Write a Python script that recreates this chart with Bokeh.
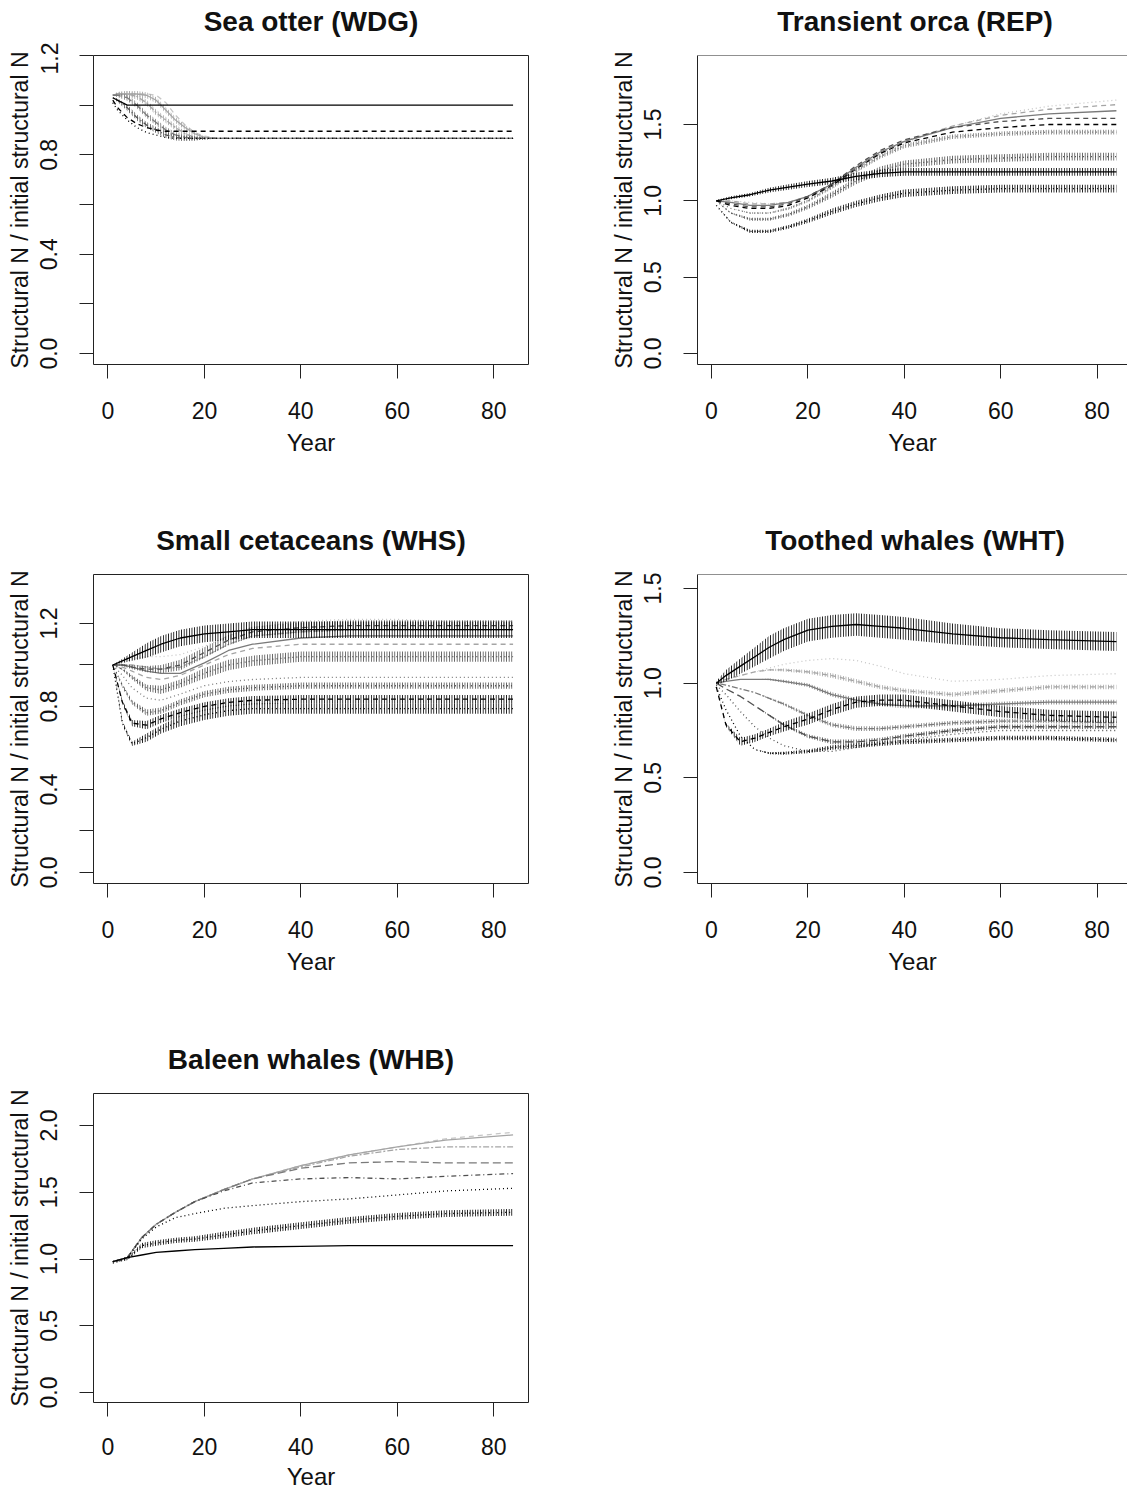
import numpy as np
from bokeh.plotting import figure
from bokeh.layouts import column, row
from bokeh.models import FixedTicker, Span
from bokeh.core.properties import value
from bokeh.embed import file_html
from bokeh.resources import INLINE

# ---------------------------------------------------------------- data
# Year samples and structural N relative to initial (mid value, and half
# width of the year-to-year oscillation where the trajectory zig-zags).

# Sea otter (WDG)
otter_years = [1, 2, 4, 6, 8, 10, 12, 14, 16, 18, 20, 23, 84]
otter_a = [1.03, 1.02, 1.00, 1.00, 1.00, 1.00, 1.00, 1.00, 1.00, 1.00, 1.00, 1.00, 1.00]
otter_b = [1.02, 0.99, 0.95, 0.925, 0.91, 0.90, 0.895, 0.895, 0.895, 0.895, 0.895, 0.895, 0.895]
otter_c = [1.01, 0.98, 0.94, 0.91, 0.89, 0.88, 0.87, 0.866, 0.866, 0.866, 0.866, 0.866, 0.866]
otter_d = [1.03, 1.02, 0.99, 0.95, 0.92, 0.90, 0.88, 0.87, 0.866, 0.866, 0.866, 0.866, 0.866]
otter_e = [1.04, 1.04, 1.03, 1.00, 0.96, 0.93, 0.90, 0.88, 0.87, 0.866, 0.866, 0.866, 0.866]
otter_f = [1.04, 1.045, 1.045, 1.035, 1.01, 0.97, 0.94, 0.91, 0.885, 0.87, 0.866, 0.866, 0.866]
otter_g = [1.04, 1.045, 1.045, 1.045, 1.04, 1.02, 0.98, 0.94, 0.91, 0.885, 0.87, 0.866, 0.866]
otter_h = [1.04, 1.045, 1.045, 1.045, 1.045, 1.04, 1.01, 0.96, 0.92, 0.89, 0.875, 0.866, 0.866]
otter_swing = [0.0, 0.008, 0.012, 0.012, 0.012, 0.012, 0.012, 0.012, 0.01, 0.008, 0.004, 0.0, 0.0]

# Transient orca (REP)
orca_years = [1, 4, 8, 12, 16, 20, 25, 30, 35, 40, 50, 60, 70, 84]
orca_a = [1.00, 1.02, 1.04, 1.07, 1.09, 1.11, 1.13, 1.16, 1.18, 1.19, 1.19, 1.19, 1.19, 1.19]
orca_a_swing = [0.005, 0.01, 0.012, 0.015, 0.018, 0.02, 0.022, 0.025, 0.025, 0.025, 0.025, 0.025, 0.025, 0.025]
orca_b = [0.97, 0.86, 0.80, 0.80, 0.83, 0.87, 0.93, 0.98, 1.02, 1.05, 1.07, 1.08, 1.08, 1.08]
orca_b_swing = [0.0, 0.005, 0.01, 0.01, 0.012, 0.015, 0.02, 0.02, 0.022, 0.025, 0.025, 0.025, 0.025, 0.025]
orca_c = [1.00, 0.92, 0.88, 0.88, 0.91, 0.96, 1.04, 1.13, 1.20, 1.24, 1.27, 1.28, 1.29, 1.29]
orca_c_swing = [0.0, 0.005, 0.01, 0.01, 0.012, 0.015, 0.02, 0.022, 0.025, 0.025, 0.025, 0.025, 0.025, 0.025]
orca_d = [1.00, 0.95, 0.92, 0.92, 0.95, 1.00, 1.09, 1.20, 1.29, 1.36, 1.42, 1.44, 1.45, 1.45]
orca_d_swing = [0.0, 0.0, 0.005, 0.005, 0.008, 0.01, 0.012, 0.015, 0.015, 0.015, 0.015, 0.015, 0.015, 0.015]
orca_e = [1.00, 0.97, 0.95, 0.95, 0.97, 1.02, 1.10, 1.21, 1.31, 1.38, 1.45, 1.48, 1.50, 1.50]
orca_f = [1.00, 0.98, 0.96, 0.96, 0.98, 1.03, 1.11, 1.23, 1.33, 1.40, 1.48, 1.52, 1.54, 1.54]
orca_g = [1.00, 0.99, 0.97, 0.97, 0.99, 1.03, 1.11, 1.22, 1.32, 1.39, 1.48, 1.54, 1.57, 1.59]
orca_h = [1.00, 1.00, 0.98, 0.98, 0.99, 1.03, 1.10, 1.21, 1.31, 1.39, 1.49, 1.56, 1.60, 1.63]
orca_i = [1.00, 1.00, 0.99, 0.98, 0.99, 1.02, 1.08, 1.19, 1.29, 1.38, 1.49, 1.57, 1.62, 1.66]

# Small cetaceans (WHS)
cet_years = [1, 3, 5, 8, 11, 15, 20, 25, 30, 40, 50, 60, 70, 84]
cet_a = [1.00, 1.02, 1.04, 1.07, 1.10, 1.13, 1.15, 1.16, 1.17, 1.17, 1.17, 1.17, 1.17, 1.17]
cet_a_swing = [0.0, 0.01, 0.02, 0.035, 0.04, 0.04, 0.04, 0.04, 0.04, 0.04, 0.04, 0.04, 0.04, 0.04]
cet_b = [1.00, 0.72, 0.62, 0.65, 0.69, 0.73, 0.76, 0.78, 0.79, 0.79, 0.79, 0.79, 0.79, 0.79]
cet_b_swing = [0.0, 0.01, 0.01, 0.02, 0.02, 0.025, 0.025, 0.025, 0.025, 0.025, 0.025, 0.025, 0.025, 0.025]
cet_c = [1.00, 0.82, 0.72, 0.71, 0.74, 0.77, 0.80, 0.82, 0.83, 0.835, 0.835, 0.835, 0.835, 0.835]
cet_c_swing = [0.0, 0.01, 0.015, 0.02, 0.02, 0.02, 0.02, 0.02, 0.02, 0.02, 0.02, 0.02, 0.02, 0.02]
cet_d = [1.00, 0.90, 0.82, 0.77, 0.78, 0.82, 0.86, 0.88, 0.89, 0.90, 0.90, 0.90, 0.90, 0.90]
cet_d_swing = [0.0, 0.01, 0.01, 0.015, 0.015, 0.015, 0.015, 0.015, 0.015, 0.015, 0.015, 0.015, 0.015, 0.015]
cet_e = [1.00, 0.95, 0.89, 0.84, 0.83, 0.86, 0.90, 0.92, 0.93, 0.94, 0.94, 0.94, 0.94, 0.94]
cet_f = [1.00, 0.98, 0.94, 0.89, 0.88, 0.91, 0.96, 1.00, 1.02, 1.04, 1.04, 1.04, 1.04, 1.04]
cet_f_swing = [0.0, 0.005, 0.01, 0.015, 0.02, 0.02, 0.025, 0.025, 0.025, 0.025, 0.025, 0.025, 0.025, 0.025]
cet_g = [1.00, 0.99, 0.97, 0.94, 0.93, 0.95, 1.00, 1.05, 1.08, 1.10, 1.10, 1.10, 1.10, 1.10]
cet_h = [1.00, 1.00, 0.99, 0.97, 0.96, 0.96, 1.01, 1.07, 1.10, 1.13, 1.14, 1.14, 1.14, 1.14]
cet_i = [1.00, 1.00, 1.00, 0.99, 0.98, 0.99, 1.04, 1.10, 1.14, 1.16, 1.17, 1.17, 1.17, 1.17]
cet_j = [1.00, 1.01, 1.03, 1.04, 1.04, 1.05, 1.09, 1.14, 1.18, 1.21, 1.22, 1.22, 1.21, 1.21]
cet_k = [1.00, 1.00, 0.99, 0.98, 0.98, 1.00, 1.06, 1.12, 1.16, 1.18, 1.19, 1.19, 1.19, 1.19]
cet_k_swing = [0.0, 0.005, 0.01, 0.015, 0.02, 0.025, 0.025, 0.025, 0.025, 0.025, 0.025, 0.025, 0.025, 0.025]

# Toothed whales (WHT)
tooth_years = [1, 3, 6, 9, 12, 15, 20, 25, 30, 35, 40, 50, 60, 70, 84]
tooth_a = [1.00, 1.04, 1.09, 1.14, 1.19, 1.23, 1.28, 1.30, 1.31, 1.30, 1.29, 1.26, 1.24, 1.23, 1.22]
tooth_a_swing = [0.01, 0.03, 0.04, 0.05, 0.06, 0.06, 0.06, 0.06, 0.06, 0.06, 0.06, 0.055, 0.05, 0.05, 0.05]
tooth_b = [1.00, 1.02, 1.04, 1.06, 1.08, 1.10, 1.12, 1.13, 1.12, 1.09, 1.05, 1.01, 1.02, 1.04, 1.05]
tooth_c = [1.00, 1.02, 1.04, 1.06, 1.07, 1.07, 1.06, 1.04, 1.01, 0.98, 0.96, 0.94, 0.96, 0.98, 0.98]
tooth_d = [1.00, 1.01, 1.02, 1.02, 1.02, 1.01, 0.99, 0.94, 0.91, 0.89, 0.88, 0.88, 0.89, 0.90, 0.90]
tooth_e = [1.00, 0.99, 0.97, 0.95, 0.92, 0.89, 0.83, 0.78, 0.76, 0.76, 0.77, 0.79, 0.80, 0.80, 0.79]
tooth_f = [1.00, 0.97, 0.93, 0.88, 0.83, 0.78, 0.72, 0.69, 0.69, 0.70, 0.72, 0.75, 0.77, 0.77, 0.77]
tooth_g = [0.99, 0.94, 0.85, 0.77, 0.71, 0.67, 0.64, 0.64, 0.66, 0.68, 0.70, 0.73, 0.75, 0.75, 0.75]
tooth_h = [0.98, 0.86, 0.72, 0.65, 0.63, 0.63, 0.64, 0.66, 0.67, 0.68, 0.69, 0.70, 0.71, 0.71, 0.70]
tooth_i = [0.98, 0.78, 0.69, 0.71, 0.74, 0.77, 0.81, 0.86, 0.90, 0.91, 0.91, 0.88, 0.85, 0.83, 0.82]
tooth_i_swing = [0.0, 0.01, 0.02, 0.02, 0.02, 0.025, 0.03, 0.03, 0.03, 0.03, 0.03, 0.03, 0.03, 0.03, 0.03]
tooth_small_swing = [0.0, 0.0, 0.0, 0.0, 0.005, 0.008, 0.01, 0.012, 0.012, 0.012, 0.012, 0.012, 0.012, 0.012, 0.012]

# Baleen whales (WHB)
baleen_years = [1, 4, 7, 10, 14, 18, 24, 30, 40, 50, 60, 70, 84]
baleen_a = [0.98, 1.01, 1.03, 1.05, 1.06, 1.07, 1.08, 1.09, 1.095, 1.10, 1.10, 1.10, 1.10]
baleen_b = [0.97, 1.00, 1.10, 1.12, 1.14, 1.15, 1.18, 1.21, 1.25, 1.29, 1.32, 1.34, 1.35]
baleen_b_swing = [0.0, 0.01, 0.02, 0.02, 0.02, 0.02, 0.025, 0.025, 0.025, 0.025, 0.025, 0.025, 0.025]
baleen_c = [0.98, 1.01, 1.15, 1.24, 1.31, 1.34, 1.38, 1.40, 1.43, 1.45, 1.48, 1.51, 1.53]
baleen_d = [0.98, 1.01, 1.16, 1.26, 1.35, 1.43, 1.51, 1.57, 1.60, 1.61, 1.60, 1.62, 1.64]
baleen_e = [0.98, 1.01, 1.16, 1.26, 1.35, 1.43, 1.52, 1.60, 1.68, 1.72, 1.73, 1.72, 1.72]
baleen_f = [0.98, 1.01, 1.16, 1.26, 1.35, 1.43, 1.52, 1.60, 1.69, 1.77, 1.82, 1.84, 1.84]
baleen_g = [0.98, 1.01, 1.16, 1.26, 1.35, 1.43, 1.52, 1.60, 1.70, 1.78, 1.84, 1.89, 1.93]
baleen_h = [0.98, 1.01, 1.16, 1.26, 1.35, 1.43, 1.52, 1.60, 1.70, 1.78, 1.84, 1.90, 1.95]

year_ticks = [0, 20, 40, 60, 80]

# ---------------------------------------------------------------- styles
BLACK, DARK, MID, LIGHT, PALE = "#000000", "#505050", "#7a7a7a", "#a5a5a5", "#c6c6c6"
SOLID, DASHED, DOTTED, DOTDASH, LONGDASH, TWODASH = (
    "solid", "5 4", "1 3", "1 3 5 3", "8 4", "2 2 6 2")

FONT = "Liberation Sans"
INK = "#111111"
HEAD_H = 42            # strip holding each panel heading
LEFT_W, RIGHT_W = 563, 564


def heading(text, width, centre):
    """A thin strip with the bold panel heading centred over the plot box."""
    h = figure(width=width, height=HEAD_H, x_range=(0, width), y_range=(0, HEAD_H),
               x_axis_type=None, y_axis_type=None, output_backend="svg",
               toolbar_location=None, min_border=0)
    h.outline_line_color = None
    h.grid.visible = False
    h.text(x=[centre], y=[HEAD_H / 2], text=[text], text_align="center",
           text_baseline="middle", text_font=value(FONT), text_font_size="28px",
           text_font_style="bold", text_color=INK)
    return h


def panel(years, series, y_range, y_ticks, y_labels, left_pad, right_pad,
          width, height, bottom_pad, open_right=False, compact=False):
    p = figure(width=width, height=height, x_range=(-3.0, 87.2) if not open_right else (-2.9, 86.3),
               y_range=y_range, output_backend="svg", toolbar_location=None,
               min_border_left=left_pad, min_border_right=right_pad,
               min_border_top=55 - HEAD_H, min_border_bottom=bottom_pad)
    p.grid.visible = False
    p.background_fill_color = "white"
    p.border_fill_color = "white"

    for ax in (p.xaxis[0], p.yaxis[0]):
        ax.major_tick_out = 14
        ax.major_tick_in = 0
        ax.minor_tick_out = 0
        ax.minor_tick_in = 0
        ax.major_tick_line_color = "#222222"
        ax.major_label_text_font = FONT
        ax.major_label_text_font_size = "23px"
        ax.major_label_text_color = INK
        ax.axis_label_text_font = FONT
        ax.axis_label_text_font_style = "normal"
        ax.axis_label_text_color = INK

    p.xaxis.ticker = FixedTicker(ticks=year_ticks)
    p.xaxis.axis_label = "Year"
    p.xaxis.axis_label_text_font_size = "24px"
    p.xaxis.major_label_standoff = 21 if compact else 23
    p.xaxis.axis_label_standoff = 5 if compact else 7

    p.yaxis.ticker = FixedTicker(ticks=y_ticks)
    p.yaxis.major_label_overrides = {t: lab for t, lab in zip(y_ticks, y_labels)}
    p.yaxis.major_label_orientation = "vertical"
    p.yaxis.axis_label = "Structural N / initial structural N"
    p.yaxis.axis_label_text_font_size = "23px"
    p.yaxis.major_label_standoff = 22
    p.yaxis.axis_label_standoff = 5

    if open_right:
        p.outline_line_color = None
        p.xaxis.axis_line_color = "#222222"
        p.yaxis.axis_line_color = "#222222"
        p.add_layout(Span(location=y_range[1], dimension="width",
                          line_color="#222222", line_width=1))
    else:
        p.outline_line_color = "#222222"
        p.outline_line_width = 1
        p.xaxis.axis_line_color = None
        p.yaxis.axis_line_color = None

    x = np.array(years, dtype=float)
    for values, swing, color, dash in series:
        y = np.array(values, dtype=float)
        if swing is not None:
            s = np.array(swing, dtype=float)
            p.varea(x=x, y1=y - s, y2=y + s, fill_alpha=0,
                    hatch_pattern="vertical_line", hatch_color=color,
                    hatch_scale=2.6, hatch_weight=1.1, hatch_alpha=0.95)
        p.line(x, y, line_color=color, line_dash=dash, line_width=1.3)
    return p


PLOT_H = 519 - HEAD_H

otter = panel(
    otter_years,
    [(otter_h, None, PALE, DASHED), (otter_g, otter_swing, LIGHT, SOLID),
     (otter_f, otter_swing, LIGHT, TWODASH), (otter_e, otter_swing, MID, LONGDASH),
     (otter_d, otter_swing, DARK, DOTDASH), (otter_c, None, BLACK, DOTTED),
     (otter_b, None, BLACK, DASHED), (otter_a, None, BLACK, SOLID)],
    (-0.044, 1.2), [0.0, 0.2, 0.4, 0.6, 0.8, 1.0, 1.2],
    ["0.0", "", "0.4", "", "0.8", "", "1.2"], 93, 35, LEFT_W, PLOT_H, 155)

orca = panel(
    orca_years,
    [(orca_i, None, PALE, DOTTED), (orca_h, None, LIGHT, DASHED),
     (orca_g, None, MID, SOLID), (orca_f, None, DARK, DASHED),
     (orca_e, None, BLACK, DASHED), (orca_d, orca_d_swing, MID, DOTTED),
     (orca_c, orca_c_swing, DARK, DOTTED), (orca_b, orca_b_swing, BLACK, DOTTED),
     (orca_a, orca_a_swing, BLACK, SOLID)],
    (-0.072, 1.952), [0.0, 0.5, 1.0, 1.5], ["0.0", "0.5", "1.0", "1.5"],
    134, 0, RIGHT_W, PLOT_H, 155, open_right=True)

cetacean = panel(
    cet_years,
    [(cet_j, None, PALE, DOTTED), (cet_i, None, LIGHT, TWODASH),
     (cet_h, None, MID, SOLID), (cet_g, None, LIGHT, DASHED),
     (cet_f, cet_f_swing, DARK, DOTTED), (cet_e, None, MID, DOTTED),
     (cet_d, cet_d_swing, DARK, DOTTED), (cet_c, cet_c_swing, BLACK, DASHED),
     (cet_b, cet_b_swing, BLACK, DOTTED), (cet_k, cet_k_swing, DARK, DASHED),
     (cet_a, cet_a_swing, BLACK, SOLID)],
    (-0.053, 1.436), [0.0, 0.2, 0.4, 0.6, 0.8, 1.0, 1.2],
    ["0.0", "", "0.4", "", "0.8", "", "1.2"], 93, 35, LEFT_W, PLOT_H, 155)

toothed = panel(
    tooth_years,
    [(tooth_b, None, PALE, DOTTED), (tooth_c, tooth_small_swing, LIGHT, DASHED),
     (tooth_d, tooth_small_swing, MID, SOLID), (tooth_e, tooth_small_swing, MID, TWODASH),
     (tooth_f, tooth_small_swing, DARK, LONGDASH), (tooth_g, None, DARK, DOTTED),
     (tooth_h, tooth_small_swing, BLACK, DOTTED), (tooth_i, tooth_i_swing, BLACK, DASHED),
     (tooth_a, tooth_a_swing, BLACK, SOLID)],
    (-0.058, 1.574), [0.0, 0.5, 1.0, 1.5], ["0.0", "0.5", "1.0", "1.5"],
    134, 0, RIGHT_W, PLOT_H, 155, open_right=True)

baleen = panel(
    baleen_years,
    [(baleen_h, None, PALE, DASHED), (baleen_g, None, LIGHT, SOLID),
     (baleen_f, None, LIGHT, TWODASH), (baleen_e, None, MID, LONGDASH),
     (baleen_d, None, DARK, DOTDASH), (baleen_c, None, BLACK, DOTTED),
     (baleen_b, baleen_b_swing, BLACK, DOTTED), (baleen_a, None, BLACK, SOLID)],
    (-0.075, 2.24), [0.0, 0.5, 1.0, 1.5, 2.0], ["0.0", "0.5", "1.0", "1.5", "2.0"],
    93, 35, LEFT_W, 454 - HEAD_H, 90, compact=True)

# left boxes span 93..528 (centre 310.5); right boxes start at 134 and are 435 wide
layout = column(
    row(heading("Sea otter (WDG)", LEFT_W, 310.5), heading("Transient orca (REP)", RIGHT_W, 351.5)),
    row(otter, orca),
    row(heading("Small cetaceans (WHS)", LEFT_W, 310.5), heading("Toothed whales (WHT)", RIGHT_W, 351.5)),
    row(cetacean, toothed),
    row(heading("Baleen whales (WHB)", LEFT_W, 310.5)),
    row(baleen),
)

with open("out.html", "w") as f:
    f.write(file_html(layout, INLINE, "Structural N trajectories"))
